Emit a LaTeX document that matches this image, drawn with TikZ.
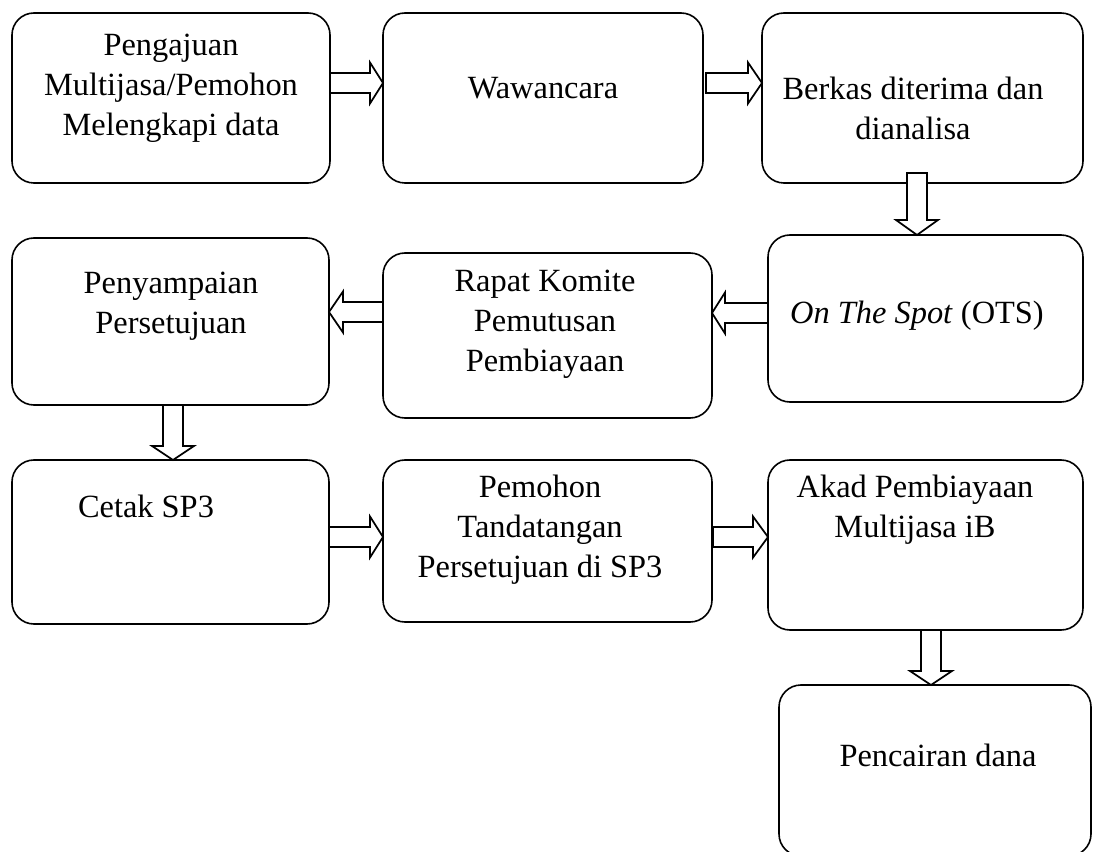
\documentclass[tikz,border=0pt]{standalone}
\usepackage{fontspec}
\setmainfont{Liberation Serif}
\usetikzlibrary{fit}
\tikzset{
  box/.style={draw, line width=1.2pt, rounded corners=16.5pt, fill=white, inner sep=0pt},
  lbl/.style={align=center, font=\fontsize{24.3}{30}\selectfont, inner sep=0pt},
  barrow/.style={draw, line width=1.3pt, fill=white, line join=miter}
}
\newcommand\mkbox[5]{\coordinate (#1-a) at (#2,#3); \coordinate (#1-b) at (#4,#5); \node[box, fit=(#1-a)(#1-b)] (#1) {};}
% right arrow: start x, head x, tip x, centre y
\newcommand\rarr[4]{\draw[barrow] (#1,{#4-10}) -- (#2,{#4-10}) -- (#2,{#4-20.5}) -- (#3,#4) -- (#2,{#4+20.5}) -- (#2,{#4+10}) -- (#1,{#4+10}) -- cycle;}
% left arrow: start x (right), head x, tip x, centre y
\newcommand\larr[4]{\draw[barrow] (#1,{#4-10}) -- (#2,{#4-10}) -- (#2,{#4-20.5}) -- (#3,#4) -- (#2,{#4+20.5}) -- (#2,{#4+10}) -- (#1,{#4+10}) -- cycle;}
% down arrow: centre x, start y, head y, tip y
\newcommand\darr[4]{\draw[barrow] ({#1-10},#2) -- ({#1-10},#3) -- ({#1-21},#3) -- (#1,#4) -- ({#1+21},#3) -- ({#1+10},#3) -- ({#1+10},#2) -- cycle;}
\begin{document}
\begin{tikzpicture}[x=0.75pt,y=-0.75pt]
\clip (0,0) rectangle (1093,852);
\fill[white] (0,0) rectangle (1093,852);
\mkbox{b1}{12}{13}{330}{183}
\mkbox{b2}{383}{13}{703}{183}
\mkbox{b3}{762}{13}{1083}{183}
\mkbox{b4}{12}{238}{329}{405}
\mkbox{b5}{383}{253}{712}{418}
\mkbox{b6}{768}{235}{1083}{402}
\mkbox{b7}{12}{460}{329}{624}
\mkbox{b8}{383}{460}{712}{622}
\mkbox{b9}{768}{460}{1083}{630}
\mkbox{b10}{779}{685}{1091}{856}

\node[lbl] (t1) at (171,88) {Pengajuan\\Multijasa/Pemohon\\Melengkapi data};
\node[lbl] (t2) at (543,88) {Wawancara};
\node[lbl] (t3) at (913,108) {Berkas diterima dan\\dianalisa};
\node[lbl] (t4) at (171,306) {Penyampaian\\Persetujuan};
\node[lbl] (t5) at (545,324) {Rapat Komite\\Pemutusan\\Pembiayaan};
\node[lbl] (t6) at (917,316) {\textit{On The Spot} (OTS)};
\node[lbl] (t7) at (146,506) {Cetak SP3};
\node[lbl] (t8) at (540,530) {Pemohon\\Tandatangan\\Persetujuan di SP3};
\node[lbl] (t9) at (915,510) {Akad Pembiayaan\\Multijasa iB};
\node[lbl] (t10) at (938,755) {Pencairan dana};

\rarr{330}{370}{383}{83}
\rarr{706}{748}{762}{83}
\darr{917}{173}{220}{235}
\larr{768}{725}{712}{313}
\larr{383}{343}{329}{312}
\darr{173}{405}{446}{460}
\rarr{329}{370}{383}{537}
\rarr{713}{753}{768}{537}
\darr{931}{630}{671}{685}
\end{tikzpicture}
\end{document}
